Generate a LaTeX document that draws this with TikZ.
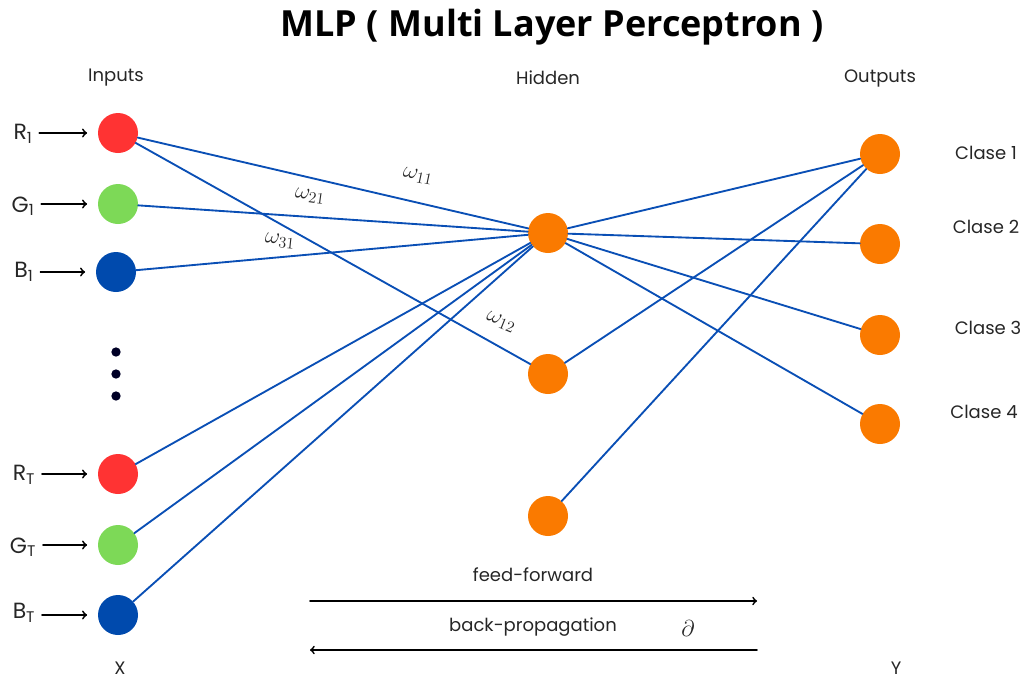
\documentclass[tikz,border=0pt]{standalone}
\usepackage{fontspec}
\usepackage{amsmath}
\usepackage{tikz}
\usetikzlibrary{calc}
\usetikzlibrary{arrows}
\setmainfont{Poppins}
\newfontfamily\titlefont{Open Sans}
\definecolor{ffrrss}{rgb}{1.,0.2,0.2}
\definecolor{ggddaa}{rgb}{0.49,0.85,0.34}
\definecolor{bbqqaa}{rgb}{0.,0.29,0.68}
\definecolor{ooaaqq}{rgb}{0.98,0.48,0.}
\definecolor{llbbee}{rgb}{0.04,0.31,0.71}
\tikzstyle{every node}=[font=\fontsize{13.5}{16}\selectfont,text=black!85]
\tikzstyle{neuron}=[circle,inner sep=0pt,minimum size=30pt]
\tikzstyle{weight}=[font=\fontsize{17}{20}\selectfont,inner sep=0pt]
\tikzstyle{channel}=[font=\fontsize{16.5}{19}\selectfont,inner sep=1pt]

\begin{document}
\begin{tikzpicture}[line cap=round,line join=round,>=to,x=0.75pt,y=-0.75pt]
        \useasboundingbox (0,0) rectangle (1028,679);
        % title and layer names
        \node[text=black] (title) at (552,27) {\titlefont\bfseries\fontsize{27}{32}\selectfont MLP ( Multi Layer Perceptron )};
        \node (inputs) at (116,78) {Inputs};
        \node (hidden) at (548,78) {Hidden};
        \node (outputs) at (880,78) {Outputs};
        % input layer
        \node[neuron,fill=ffrrss] (R1) at (118,133) {};
        \node[neuron,fill=ggddaa] (G1) at (118,204) {};
        \node[neuron,fill=bbqqaa] (B1) at (116,272) {};
        \node[neuron,fill=ffrrss] (RT) at (118,474) {};
        \node[neuron,fill=ggddaa] (GT) at (118,545) {};
        \node[neuron,fill=bbqqaa] (BT) at (118,615) {};
        \fill[black!85!blue] (116,352) circle (3.5pt) (116,374) circle (3.5pt) (116,396) circle (3.5pt);
        \node[channel] (lR1) at (23,134) {R\textsubscript{1}};
        \node[channel] (lG1) at (23,206) {G\textsubscript{1}};
        \node[channel] (lB1) at (24,272) {B\textsubscript{1}};
        \node[channel] (lRT) at (24,475) {R\textsubscript{T}};
        \node[channel] (lGT) at (23,547) {G\textsubscript{T}};
        \node[channel] (lBT) at (24,613) {B\textsubscript{T}};
        \foreach \n in {R1,G1,B1,RT,GT,BT}
            \draw[->,line width=1.4pt,shorten <=4pt,shorten >=8pt] (l\n.east |- \n.west) -- (\n.west);
        \node[inner sep=1pt] (X) at (120,668) {X};
        % hidden layer
        \node[neuron,fill=ooaaqq] (H1) at (548,233) {};
        \node[neuron,fill=ooaaqq] (H2) at (548,374) {};
        \node[neuron,fill=ooaaqq] (H3) at (548,516) {};
        % output layer
        \node[neuron,fill=ooaaqq] (O1) at (880,154) {};
        \node[neuron,fill=ooaaqq] (O2) at (880,244) {};
        \node[neuron,fill=ooaaqq] (O3) at (880,335) {};
        \node[neuron,fill=ooaaqq] (O4) at (880,424) {};
        \node (c1) at (986,153) {Clase 1};
        \node (c2) at (986,227) {Clase 2};
        \node (c3) at (988,328) {Clase 3};
        \node (c4) at (984,412) {Clase 4};
        \node[inner sep=1pt] (Y) at (896,668) {Y};
        % connections
        \begin{scope}[color=llbbee,line width=1.4pt]
            \foreach \n in {R1,G1,B1,RT,GT,BT}
                \draw (\n) -- (H1);
            \draw (R1) -- (H2);
            \foreach \n in {O1,O2,O3,O4}
                \draw (H1) -- (\n);
            \draw (H2) -- (O1);
            \draw (H3) -- (O1);
        \end{scope}
        \node[weight,rotate=-12] (w11) at (418,176) {$\omega_{11}$};
        \node[weight,rotate=-8] (w21) at (310,196) {$\omega_{21}$};
        \node[weight,rotate=-6] (w31) at (280,241) {$\omega_{31}$};
        \node[weight,rotate=-22] (w12) at (501,322) {$\omega_{12}$};
        % feed-forward / back-propagation
        \coordinate (ffa) at (310,601);
        \coordinate (ffb) at (757,601);
        \coordinate (bpa) at (757,650);
        \coordinate (bpb) at (310,650);
        \draw[->,line width=1.3pt] (ffa) -- (ffb);
        \draw[->,line width=1.3pt] (bpa) -- (bpb);
        \node (ff) at (533,575) {feed-forward};
        \node (bp) at (533,627) {back-propagation};
        \node (d) at (688,628) {\fontsize{19}{22}\selectfont$\partial$};
        \end{tikzpicture}
\end{document}
